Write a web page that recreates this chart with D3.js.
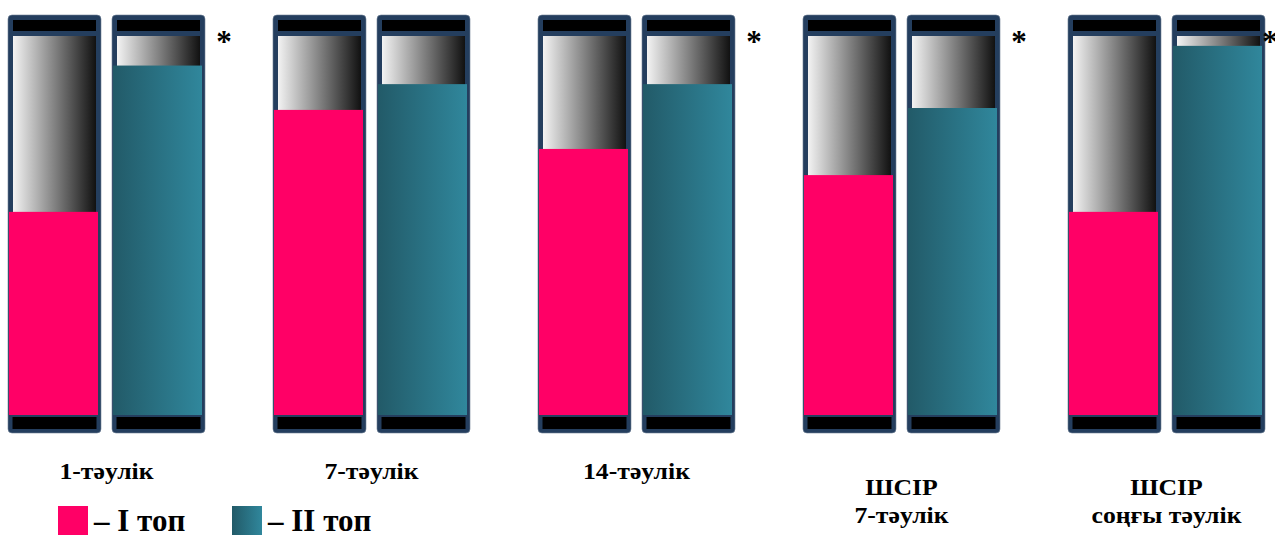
<!DOCTYPE html>
<html>
<head>
<meta charset="utf-8">
<script src="https://cdn.jsdelivr.net/npm/d3@7"></script>
<style>
  html, body { margin: 0; padding: 0; background: #ffffff; }
  svg { display: block; }
</style>
</head>
<body>
<svg id="chart" width="1275" height="535"></svg>
<script>
// Periods (one pair of tubes each); multi-line labels are split on "\n"
const categories = ["1-тәулік", "7-тәулік", "14-тәулік", "ШСІР\n7-тәулік", "ШСІР\nсоңғы тәулік"];
const seriesNames = ["– І топ", "– ІІ топ"];
// Percent values of group I and group II
const groupI  = [53.6, 80.5, 70.2, 63.3, 53.6];
const groupII = [92.2, 87.3, 87.3, 81.0, 97.4];
// Significance marks next to the group II tube
const marks = ["*", "", "*", "*", "*"];

const W = 1275, H = 535;
const svg = d3.select("#chart");
const defs = svg.append("defs");

const frameColor = "#243e5e";
const pink = "#ff0066";
const serif = "'Liberation Serif', 'Times New Roman', serif";

// Horizontal gradients: glass tube shading and group II fill
function hGradient(id, from, to) {
  const g = defs.append("linearGradient").attr("id", id)
    .attr("x1", "0%").attr("x2", "100%").attr("y1", "0%").attr("y2", "0%");
  g.append("stop").attr("offset", "0%").attr("stop-color", from);
  g.append("stop").attr("offset", "100%").attr("stop-color", to);
}
hGradient("tubeGrad", "#f3f3f3", "#111111");
hGradient("tealGrad", "#225a68", "#30879c");

const x0 = d3.scaleBand().domain(d3.range(categories.length))
  .range([8, 1265]).paddingInner(0.2566).paddingOuter(0);
const x1 = d3.scaleBand().domain([0, 1])
  .range([0, x0.bandwidth()]).paddingInner(0.1058).paddingOuter(0);
const y = d3.scaleLinear().domain([0, 100]).range([415, 36]);

const rows = categories.map((c, i) => ({ i, cat: c, vals: [groupI[i], groupII[i]] }));
const tubes = rows.flatMap(r => r.vals.map((v, s) => ({ i: r.i, s, v })));

const tw = x1.bandwidth();
const tubeTop = 15, tubeBottom = 433;

const tube = svg.append("g").selectAll("g").data(tubes).join("g")
  .attr("transform", d => `translate(${x0(d.i) + x1(d.s)},0)`);

// Frame
tube.append("rect")
  .attr("x", 0).attr("y", tubeTop)
  .attr("width", tw).attr("height", tubeBottom - tubeTop)
  .attr("rx", 4)
  .attr("fill", frameColor)
  .attr("stroke", "#6f8096").attr("stroke-width", 0.6);

// Glass interior
tube.append("rect")
  .attr("x", 5).attr("y", y(100))
  .attr("width", tw - 10).attr("height", y(0) - y(100))
  .attr("fill", "url(#tubeGrad)");

// Black caps
tube.append("rect")
  .attr("x", 5).attr("y", 20).attr("width", tw - 10).attr("height", 11)
  .attr("fill", "#000");
tube.append("rect")
  .attr("x", 4.5).attr("y", 417).attr("width", tw - 9).attr("height", 12)
  .attr("fill", "#000");

// Value fill
tube.append("rect")
  .attr("x", 1).attr("y", d => y(d.v))
  .attr("width", tw - 4).attr("height", d => y(0) - y(d.v))
  .attr("fill", d => d.s === 0 ? pink : "url(#tealGrad)");

// Asterisks
svg.append("g").selectAll("text").data(rows.filter(r => marks[r.i]))
  .join("text")
  .attr("x", r => Math.min(x0(r.i) + x1(1) + tw + 19, W - 5))
  .attr("y", 52)
  .attr("text-anchor", "middle")
  .attr("font-family", serif)
  .attr("font-weight", "bold")
  .attr("font-size", 31)
  .attr("fill", "#000")
  .text(r => marks[r.i]);

// Category labels (slightly widened serif)
const labels = svg.append("g").selectAll("text").data(rows).join("text")
  .attr("text-anchor", "middle")
  .attr("transform", r => `translate(${x0(r.i) + x0.bandwidth() / 2},0) scale(1.12,1)`)
  .attr("font-family", serif)
  .attr("font-weight", "bold")
  .attr("font-size", 23)
  .attr("fill", "#000");
labels.each(function (r) {
  const lines = r.cat.split("\n");
  const base = lines.length === 1 ? 479 : 495;
  d3.select(this).selectAll("tspan").data(lines).join("tspan")
    .attr("x", 0)
    .attr("y", (l, k) => base + k * 28)
    .text(l => l);
});

// Legend
const legend = svg.append("g").selectAll("g").data(seriesNames).join("g")
  .attr("transform", (d, k) => `translate(${k === 0 ? 58 : 232},506)`);
legend.append("rect")
  .attr("width", 30).attr("height", 29)
  .attr("fill", (d, k) => k === 0 ? pink : "url(#tealGrad)");
legend.append("text")
  .attr("x", 36).attr("y", 25)
  .attr("font-family", serif)
  .attr("font-weight", "bold")
  .attr("font-size", 31)
  .attr("fill", "#000")
  .text(d => d);
</script>
</body>
</html>
